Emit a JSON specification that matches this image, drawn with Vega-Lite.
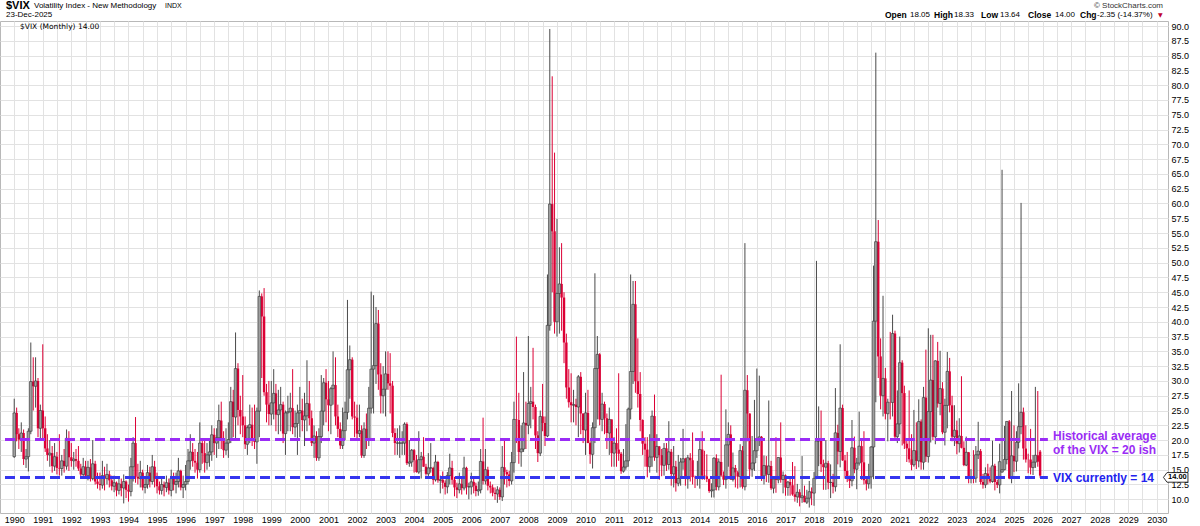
{
"$schema": "https://vega.github.io/schema/vega-lite/v6.json",
"width": 1168, "height": 492,
"autosize": {"type": "none"},
"padding": {"left": 0, "top": 21, "right": 32, "bottom": 13},
"background": "white",
"config": {"view": {"stroke": "#b8b8b8"}, "font": "Liberation Sans"},
"datasets": {
"vix": [
{"d":"1990-01","o":17.2,"h":27.0,"l":17.0,"c":24.6},{"d":"1990-02","o":24.6,"h":25.5,"l":19.8,"c":21.0},{"d":"1990-03","o":21.0,"h":22.0,"l":18.5,"c":20.1},{"d":"1990-04","o":20.1,"h":23.0,"l":18.0,"c":21.2},{"d":"1990-05","o":21.2,"h":21.8,"l":15.8,"c":16.8},{"d":"1990-06","o":16.8,"h":18.5,"l":15.3,"c":17.2},{"d":"1990-07","o":17.2,"h":22.0,"l":14.7,"c":21.5},{"d":"1990-08","o":21.5,"h":36.5,"l":21.0,"c":29.9},{"d":"1990-09","o":29.9,"h":34.0,"l":25.0,"c":29.1},{"d":"1990-10","o":29.1,"h":34.0,"l":25.5,"c":30.0},{"d":"1990-11","o":30.0,"h":30.5,"l":20.5,"c":22.0},{"d":"1990-12","o":22.0,"h":26.0,"l":20.0,"c":25.0},
{"d":"1991-01","o":25.0,"h":36.2,"l":20.0,"c":22.0},{"d":"1991-02","o":22.0,"h":24.0,"l":18.0,"c":18.6},{"d":"1991-03","o":18.6,"h":21.0,"l":16.5,"c":17.5},{"d":"1991-04","o":17.5,"h":20.0,"l":15.5,"c":17.8},{"d":"1991-05","o":17.8,"h":19.0,"l":14.5,"c":15.6},{"d":"1991-06","o":15.6,"h":19.5,"l":14.8,"c":17.2},{"d":"1991-07","o":17.2,"h":18.0,"l":14.2,"c":15.3},{"d":"1991-08","o":15.3,"h":21.0,"l":14.0,"c":15.2},{"d":"1991-09","o":15.2,"h":17.5,"l":14.0,"c":16.5},{"d":"1991-10","o":16.5,"h":18.5,"l":14.5,"c":15.6},{"d":"1991-11","o":15.6,"h":21.8,"l":15.0,"c":20.3},{"d":"1991-12","o":20.3,"h":21.5,"l":14.8,"c":17.1},
{"d":"1992-01","o":17.1,"h":19.5,"l":15.5,"c":16.5},{"d":"1992-02","o":16.5,"h":18.0,"l":15.0,"c":16.8},{"d":"1992-03","o":16.8,"h":18.5,"l":15.5,"c":16.5},{"d":"1992-04","o":16.5,"h":19.0,"l":14.8,"c":15.2},{"d":"1992-05","o":15.2,"h":16.0,"l":13.5,"c":14.2},{"d":"1992-06","o":14.2,"h":17.0,"l":13.8,"c":15.5},{"d":"1992-07","o":15.5,"h":16.5,"l":13.5,"c":14.0},{"d":"1992-08","o":14.0,"h":16.5,"l":13.2,"c":15.4},{"d":"1992-09","o":15.4,"h":16.8,"l":13.0,"c":13.5},{"d":"1992-10","o":13.5,"h":20.0,"l":13.2,"c":16.0},{"d":"1992-11","o":16.0,"h":16.5,"l":12.5,"c":13.0},{"d":"1992-12","o":13.0,"h":14.5,"l":11.8,"c":12.6},
{"d":"1993-01","o":12.6,"h":14.5,"l":11.5,"c":12.4},{"d":"1993-02","o":12.4,"h":16.5,"l":11.8,"c":14.0},{"d":"1993-03","o":14.0,"h":15.5,"l":11.5,"c":13.5},{"d":"1993-04","o":13.5,"h":16.0,"l":12.5,"c":14.2},{"d":"1993-05","o":14.2,"h":14.8,"l":12.0,"c":13.2},{"d":"1993-06","o":13.2,"h":14.0,"l":11.5,"c":12.2},{"d":"1993-07","o":12.2,"h":14.0,"l":11.2,"c":12.8},{"d":"1993-08","o":12.8,"h":13.0,"l":10.5,"c":11.5},{"d":"1993-09","o":11.5,"h":13.8,"l":10.8,"c":12.6},{"d":"1993-10","o":12.6,"h":13.5,"l":10.5,"c":11.9},{"d":"1993-11","o":11.9,"h":14.2,"l":9.3,"c":13.0},{"d":"1993-12","o":13.0,"h":13.2,"l":10.2,"c":11.6},
{"d":"1994-01","o":11.6,"h":12.5,"l":9.6,"c":11.3},{"d":"1994-02","o":11.3,"h":17.0,"l":10.5,"c":15.5},{"d":"1994-03","o":15.5,"h":20.5,"l":13.0,"c":19.5},{"d":"1994-04","o":19.5,"h":23.9,"l":12.8,"c":13.8},{"d":"1994-05","o":13.8,"h":16.0,"l":12.5,"c":13.5},{"d":"1994-06","o":13.5,"h":16.5,"l":12.0,"c":14.5},{"d":"1994-07","o":14.5,"h":15.0,"l":11.5,"c":12.0},{"d":"1994-08","o":12.0,"h":13.5,"l":11.0,"c":12.5},{"d":"1994-09","o":12.5,"h":15.8,"l":11.8,"c":14.5},{"d":"1994-10","o":14.5,"h":15.5,"l":12.0,"c":13.0},{"d":"1994-11","o":13.0,"h":17.5,"l":12.5,"c":15.5},{"d":"1994-12","o":15.5,"h":16.5,"l":12.0,"c":13.5},
{"d":"1995-01","o":13.5,"h":14.5,"l":11.0,"c":12.2},{"d":"1995-02","o":12.2,"h":13.0,"l":10.8,"c":11.5},{"d":"1995-03","o":11.5,"h":13.5,"l":10.8,"c":12.5},{"d":"1995-04","o":12.5,"h":13.0,"l":10.5,"c":12.0},{"d":"1995-05","o":12.0,"h":14.0,"l":11.2,"c":12.8},{"d":"1995-06","o":12.8,"h":13.5,"l":10.8,"c":11.5},{"d":"1995-07","o":11.5,"h":15.0,"l":10.5,"c":13.5},{"d":"1995-08","o":13.5,"h":14.5,"l":11.5,"c":12.5},{"d":"1995-09","o":12.5,"h":14.5,"l":11.0,"c":13.0},{"d":"1995-10","o":13.0,"h":17.0,"l":12.0,"c":14.8},{"d":"1995-11","o":14.8,"h":15.0,"l":11.5,"c":12.0},{"d":"1995-12","o":12.0,"h":14.0,"l":10.2,"c":12.5},
{"d":"1996-01","o":12.5,"h":15.8,"l":11.5,"c":13.0},{"d":"1996-02","o":13.0,"h":18.5,"l":12.5,"c":16.5},{"d":"1996-03","o":16.5,"h":21.0,"l":15.0,"c":18.0},{"d":"1996-04","o":18.0,"h":19.5,"l":15.5,"c":16.5},{"d":"1996-05","o":16.5,"h":18.5,"l":14.5,"c":16.2},{"d":"1996-06","o":16.2,"h":18.0,"l":13.5,"c":15.0},{"d":"1996-07","o":15.0,"h":23.0,"l":14.5,"c":19.5},{"d":"1996-08","o":19.5,"h":20.0,"l":16.0,"c":17.8},{"d":"1996-09","o":17.8,"h":20.0,"l":14.5,"c":16.2},{"d":"1996-10","o":16.2,"h":19.5,"l":15.0,"c":17.5},{"d":"1996-11","o":17.5,"h":20.0,"l":15.5,"c":18.0},{"d":"1996-12","o":18.0,"h":22.5,"l":16.5,"c":20.9},
{"d":"1997-01","o":20.9,"h":22.0,"l":17.5,"c":19.5},{"d":"1997-02","o":19.5,"h":22.0,"l":17.0,"c":20.4},{"d":"1997-03","o":20.4,"h":26.0,"l":18.5,"c":23.3},{"d":"1997-04","o":23.3,"h":26.5,"l":18.5,"c":20.0},{"d":"1997-05","o":20.0,"h":21.5,"l":17.0,"c":18.3},{"d":"1997-06","o":18.3,"h":22.0,"l":17.5,"c":19.5},{"d":"1997-07","o":19.5,"h":23.0,"l":17.0,"c":20.1},{"d":"1997-08","o":20.1,"h":29.0,"l":19.5,"c":26.5},{"d":"1997-09","o":26.5,"h":28.5,"l":20.5,"c":23.9},{"d":"1997-10","o":23.9,"h":38.2,"l":20.0,"c":32.1},{"d":"1997-11","o":32.1,"h":33.0,"l":22.5,"c":25.1},{"d":"1997-12","o":25.1,"h":27.5,"l":21.0,"c":24.0},
{"d":"1998-01","o":24.0,"h":31.0,"l":20.5,"c":22.5},{"d":"1998-02","o":22.5,"h":24.0,"l":18.5,"c":19.3},{"d":"1998-03","o":19.3,"h":22.5,"l":17.5,"c":22.1},{"d":"1998-04","o":22.1,"h":26.0,"l":19.5,"c":22.6},{"d":"1998-05","o":22.6,"h":25.5,"l":19.0,"c":20.2},{"d":"1998-06","o":20.2,"h":26.0,"l":18.5,"c":19.7},{"d":"1998-07","o":19.7,"h":25.5,"l":16.0,"c":24.9},{"d":"1998-08","o":24.9,"h":45.3,"l":20.5,"c":44.3},{"d":"1998-09","o":44.3,"h":44.8,"l":30.5,"c":40.9},{"d":"1998-10","o":40.9,"h":45.7,"l":27.5,"c":28.1},{"d":"1998-11","o":28.1,"h":29.5,"l":23.0,"c":26.0},{"d":"1998-12","o":26.0,"h":30.0,"l":22.5,"c":24.4},
{"d":"1999-01","o":24.4,"h":30.0,"l":22.5,"c":26.3},{"d":"1999-02","o":26.3,"h":32.0,"l":23.5,"c":27.9},{"d":"1999-03","o":27.9,"h":29.5,"l":21.5,"c":24.3},{"d":"1999-04","o":24.3,"h":28.5,"l":21.0,"c":25.1},{"d":"1999-05","o":25.1,"h":29.0,"l":21.5,"c":26.0},{"d":"1999-06","o":26.0,"h":26.5,"l":19.5,"c":21.1},{"d":"1999-07","o":21.1,"h":25.0,"l":17.5,"c":24.6},{"d":"1999-08","o":24.6,"h":27.5,"l":21.5,"c":24.8},{"d":"1999-09","o":24.8,"h":28.0,"l":21.5,"c":25.4},{"d":"1999-10","o":25.4,"h":32.0,"l":21.0,"c":22.2},{"d":"1999-11","o":22.2,"h":25.0,"l":20.5,"c":22.8},{"d":"1999-12","o":22.8,"h":26.0,"l":17.5,"c":24.6},
{"d":"2000-01","o":24.6,"h":29.0,"l":20.5,"c":25.0},{"d":"2000-02","o":25.0,"h":27.0,"l":21.5,"c":23.4},{"d":"2000-03","o":23.4,"h":28.0,"l":19.0,"c":24.1},{"d":"2000-04","o":24.1,"h":33.5,"l":21.5,"c":26.2},{"d":"2000-05","o":26.2,"h":30.0,"l":22.5,"c":23.7},{"d":"2000-06","o":23.7,"h":25.0,"l":19.0,"c":19.5},{"d":"2000-07","o":19.5,"h":22.5,"l":17.0,"c":20.7},{"d":"2000-08","o":20.7,"h":21.5,"l":16.5,"c":17.0},{"d":"2000-09","o":17.0,"h":22.0,"l":16.5,"c":20.6},{"d":"2000-10","o":20.6,"h":31.0,"l":19.5,"c":24.9},{"d":"2000-11","o":24.9,"h":30.5,"l":22.5,"c":29.7},{"d":"2000-12","o":29.7,"h":32.0,"l":23.0,"c":26.9},
{"d":"2001-01","o":26.9,"h":30.0,"l":21.5,"c":25.9},{"d":"2001-02","o":25.9,"h":29.0,"l":21.0,"c":28.7},{"d":"2001-03","o":28.7,"h":35.0,"l":26.0,"c":29.3},{"d":"2001-04","o":29.3,"h":34.0,"l":22.5,"c":24.0},{"d":"2001-05","o":24.0,"h":26.0,"l":20.5,"c":21.9},{"d":"2001-06","o":21.9,"h":23.0,"l":18.5,"c":19.1},{"d":"2001-07","o":19.1,"h":25.5,"l":18.5,"c":21.6},{"d":"2001-08","o":21.6,"h":26.5,"l":20.0,"c":24.7},{"d":"2001-09","o":24.7,"h":43.7,"l":23.5,"c":31.9},{"d":"2001-10","o":31.9,"h":36.0,"l":27.0,"c":33.6},{"d":"2001-11","o":33.6,"h":34.0,"l":23.5,"c":24.0},{"d":"2001-12","o":24.0,"h":26.5,"l":20.5,"c":23.8},
{"d":"2002-01","o":23.8,"h":26.0,"l":20.0,"c":21.1},{"d":"2002-02","o":21.1,"h":26.0,"l":20.5,"c":21.6},{"d":"2002-03","o":21.6,"h":22.5,"l":17.0,"c":17.4},{"d":"2002-04","o":17.4,"h":23.0,"l":17.0,"c":21.9},{"d":"2002-05","o":21.9,"h":24.5,"l":18.5,"c":20.0},{"d":"2002-06","o":20.0,"h":29.0,"l":19.0,"c":25.4},{"d":"2002-07","o":25.4,"h":45.1,"l":24.5,"c":32.0},{"d":"2002-08","o":32.0,"h":44.5,"l":24.5,"c":32.6},{"d":"2002-09","o":32.6,"h":42.5,"l":29.5,"c":39.7},{"d":"2002-10","o":39.7,"h":42.0,"l":28.5,"c":31.1},{"d":"2002-11","o":31.1,"h":33.0,"l":24.5,"c":27.5},{"d":"2002-12","o":27.5,"h":32.5,"l":24.5,"c":28.6},
{"d":"2003-01","o":28.6,"h":35.0,"l":24.0,"c":31.2},{"d":"2003-02","o":31.2,"h":35.0,"l":28.5,"c":29.6},{"d":"2003-03","o":29.6,"h":34.7,"l":24.5,"c":29.2},{"d":"2003-04","o":29.2,"h":30.0,"l":20.5,"c":21.2},{"d":"2003-05","o":21.2,"h":22.0,"l":17.5,"c":19.5},{"d":"2003-06","o":19.5,"h":22.0,"l":17.5,"c":19.5},{"d":"2003-07","o":19.5,"h":22.5,"l":17.0,"c":19.5},{"d":"2003-08","o":19.5,"h":21.5,"l":17.5,"c":19.5},{"d":"2003-09","o":19.5,"h":23.0,"l":17.5,"c":22.7},{"d":"2003-10","o":22.7,"h":23.0,"l":15.8,"c":16.1},{"d":"2003-11","o":16.1,"h":20.0,"l":15.5,"c":16.3},{"d":"2003-12","o":16.3,"h":18.5,"l":15.5,"c":18.3},
{"d":"2004-01","o":18.3,"h":18.5,"l":14.5,"c":16.6},{"d":"2004-02","o":16.6,"h":17.5,"l":14.5,"c":14.6},{"d":"2004-03","o":14.6,"h":21.5,"l":14.3,"c":16.7},{"d":"2004-04","o":16.7,"h":18.0,"l":13.5,"c":17.2},{"d":"2004-05","o":17.2,"h":20.5,"l":15.5,"c":15.5},{"d":"2004-06","o":15.5,"h":16.0,"l":14.0,"c":14.3},{"d":"2004-07","o":14.3,"h":17.8,"l":13.5,"c":15.3},{"d":"2004-08","o":15.3,"h":19.5,"l":14.5,"c":15.3},{"d":"2004-09","o":15.3,"h":15.5,"l":12.5,"c":13.3},{"d":"2004-10","o":13.3,"h":17.5,"l":13.0,"c":16.3},{"d":"2004-11","o":16.3,"h":16.5,"l":12.8,"c":13.2},{"d":"2004-12","o":13.2,"h":14.0,"l":11.0,"c":13.3},
{"d":"2005-01","o":13.3,"h":14.7,"l":11.8,"c":12.8},{"d":"2005-02","o":12.8,"h":13.2,"l":10.8,"c":12.1},{"d":"2005-03","o":12.1,"h":14.6,"l":11.0,"c":14.0},{"d":"2005-04","o":14.0,"h":17.7,"l":12.5,"c":15.3},{"d":"2005-05","o":15.3,"h":16.5,"l":12.5,"c":13.3},{"d":"2005-06","o":13.3,"h":13.8,"l":10.5,"c":12.0},{"d":"2005-07","o":12.0,"h":12.8,"l":10.2,"c":11.6},{"d":"2005-08","o":11.6,"h":14.5,"l":11.0,"c":12.6},{"d":"2005-09","o":12.6,"h":13.5,"l":10.8,"c":11.9},{"d":"2005-10","o":11.9,"h":17.2,"l":11.5,"c":15.3},{"d":"2005-11","o":15.3,"h":15.5,"l":10.8,"c":12.1},{"d":"2005-12","o":12.1,"h":12.8,"l":10.0,"c":12.1},
{"d":"2006-01","o":12.1,"h":14.5,"l":10.8,"c":12.95},{"d":"2006-02","o":12.95,"h":13.5,"l":11.0,"c":12.3},{"d":"2006-03","o":12.3,"h":12.8,"l":10.5,"c":11.4},{"d":"2006-04","o":11.4,"h":13.0,"l":10.6,"c":11.6},{"d":"2006-05","o":11.6,"h":18.5,"l":11.0,"c":16.4},{"d":"2006-06","o":16.4,"h":23.8,"l":12.5,"c":13.1},{"d":"2006-07","o":13.1,"h":18.5,"l":12.5,"c":15.0},{"d":"2006-08","o":15.0,"h":15.5,"l":11.5,"c":12.3},{"d":"2006-09","o":12.3,"h":13.0,"l":11.0,"c":12.0},{"d":"2006-10","o":12.0,"h":12.5,"l":10.5,"c":11.1},{"d":"2006-11","o":11.1,"h":12.0,"l":9.9,"c":10.9},{"d":"2006-12","o":10.9,"h":12.2,"l":9.4,"c":11.6},
{"d":"2007-01","o":11.6,"h":12.0,"l":9.9,"c":10.4},{"d":"2007-02","o":10.4,"h":19.0,"l":9.7,"c":15.4},{"d":"2007-03","o":15.4,"h":20.0,"l":12.5,"c":14.6},{"d":"2007-04","o":14.6,"h":15.0,"l":12.0,"c":14.2},{"d":"2007-05","o":14.2,"h":14.8,"l":12.2,"c":13.1},{"d":"2007-06","o":13.1,"h":18.0,"l":12.5,"c":16.2},{"d":"2007-07","o":16.2,"h":26.5,"l":14.5,"c":23.5},{"d":"2007-08","o":23.5,"h":37.5,"l":19.5,"c":23.4},{"d":"2007-09","o":23.4,"h":28.0,"l":16.0,"c":18.0},{"d":"2007-10","o":18.0,"h":22.5,"l":15.5,"c":18.5},{"d":"2007-11","o":18.5,"h":31.5,"l":18.0,"c":22.9},{"d":"2007-12","o":22.9,"h":26.5,"l":18.5,"c":22.5},
{"d":"2008-01","o":22.5,"h":37.6,"l":21.0,"c":26.2},{"d":"2008-02","o":26.2,"h":29.0,"l":22.0,"c":26.5},{"d":"2008-03","o":26.5,"h":35.6,"l":23.5,"c":25.6},{"d":"2008-04","o":25.6,"h":26.0,"l":18.5,"c":20.8},{"d":"2008-05","o":20.8,"h":21.5,"l":16.3,"c":17.8},{"d":"2008-06","o":17.8,"h":25.0,"l":17.3,"c":24.0},{"d":"2008-07","o":24.0,"h":29.5,"l":21.5,"c":22.9},{"d":"2008-08","o":22.9,"h":24.0,"l":19.0,"c":20.7},{"d":"2008-09","o":20.7,"h":48.0,"l":20.5,"c":39.4},{"d":"2008-10","o":39.4,"h":89.5,"l":38.5,"c":59.9},{"d":"2008-11","o":59.9,"h":81.5,"l":45.0,"c":55.3},{"d":"2008-12","o":55.3,"h":68.6,"l":38.0,"c":40.0},
{"d":"2009-01","o":40.0,"h":57.4,"l":37.5,"c":44.8},{"d":"2009-02","o":44.8,"h":52.6,"l":38.0,"c":46.4},{"d":"2009-03","o":46.4,"h":53.3,"l":38.5,"c":44.1},{"d":"2009-04","o":44.1,"h":45.0,"l":33.0,"c":36.5},{"d":"2009-05","o":36.5,"h":38.0,"l":27.0,"c":28.9},{"d":"2009-06","o":28.9,"h":32.0,"l":25.5,"c":26.4},{"d":"2009-07","o":26.4,"h":31.3,"l":23.0,"c":25.9},{"d":"2009-08","o":25.9,"h":28.5,"l":23.0,"c":26.0},{"d":"2009-09","o":26.0,"h":27.0,"l":22.5,"c":25.6},{"d":"2009-10","o":25.6,"h":31.0,"l":20.5,"c":30.7},{"d":"2009-11","o":30.7,"h":31.5,"l":21.0,"c":24.5},{"d":"2009-12","o":24.5,"h":24.5,"l":19.5,"c":21.7},
{"d":"2010-01","o":21.7,"h":28.0,"l":17.5,"c":24.6},{"d":"2010-02","o":24.6,"h":28.5,"l":19.5,"c":19.5},{"d":"2010-03","o":19.5,"h":19.8,"l":16.0,"c":17.6},{"d":"2010-04","o":17.6,"h":23.0,"l":15.2,"c":22.1},{"d":"2010-05","o":22.1,"h":48.2,"l":19.5,"c":32.1},{"d":"2010-06","o":32.1,"h":37.6,"l":23.5,"c":34.5},{"d":"2010-07","o":34.5,"h":34.7,"l":22.5,"c":23.5},{"d":"2010-08","o":23.5,"h":28.0,"l":21.5,"c":26.1},{"d":"2010-09","o":26.1,"h":26.5,"l":21.0,"c":23.7},{"d":"2010-10","o":23.7,"h":24.5,"l":18.5,"c":21.2},{"d":"2010-11","o":21.2,"h":25.5,"l":17.5,"c":23.5},{"d":"2010-12","o":23.5,"h":23.5,"l":15.5,"c":17.8},
{"d":"2011-01","o":17.8,"h":20.5,"l":15.5,"c":19.5},{"d":"2011-02","o":19.5,"h":22.0,"l":15.5,"c":18.4},{"d":"2011-03","o":18.4,"h":31.3,"l":16.5,"c":17.7},{"d":"2011-04","o":17.7,"h":18.0,"l":14.3,"c":14.75},{"d":"2011-05","o":14.75,"h":18.5,"l":14.5,"c":15.45},{"d":"2011-06","o":15.45,"h":22.7,"l":15.0,"c":16.5},{"d":"2011-07","o":16.5,"h":25.5,"l":15.5,"c":25.25},{"d":"2011-08","o":25.25,"h":48.0,"l":23.5,"c":31.6},{"d":"2011-09","o":31.6,"h":46.9,"l":29.5,"c":42.96},{"d":"2011-10","o":42.96,"h":46.9,"l":28.0,"c":29.96},{"d":"2011-11","o":29.96,"h":37.2,"l":25.5,"c":27.8},{"d":"2011-12","o":27.8,"h":31.5,"l":21.5,"c":23.4},
{"d":"2012-01","o":23.4,"h":23.5,"l":17.5,"c":19.4},{"d":"2012-02","o":19.4,"h":20.5,"l":15.5,"c":18.4},{"d":"2012-03","o":18.4,"h":20.5,"l":13.7,"c":15.5},{"d":"2012-04","o":15.5,"h":21.0,"l":14.5,"c":17.15},{"d":"2012-05","o":17.15,"h":25.0,"l":15.5,"c":24.06},{"d":"2012-06","o":24.06,"h":27.7,"l":16.5,"c":17.08},{"d":"2012-07","o":17.08,"h":21.0,"l":14.5,"c":18.93},{"d":"2012-08","o":18.93,"h":19.0,"l":13.3,"c":17.47},{"d":"2012-09","o":17.47,"h":18.5,"l":13.9,"c":15.73},{"d":"2012-10","o":15.73,"h":19.5,"l":14.0,"c":18.6},{"d":"2012-11","o":18.6,"h":19.5,"l":14.8,"c":15.87},{"d":"2012-12","o":15.87,"h":23.2,"l":15.0,"c":18.02},
{"d":"2013-01","o":18.02,"h":18.5,"l":12.3,"c":14.28},{"d":"2013-02","o":14.28,"h":19.0,"l":12.0,"c":15.51},{"d":"2013-03","o":15.51,"h":16.5,"l":11.3,"c":12.7},{"d":"2013-04","o":12.7,"h":17.5,"l":12.2,"c":13.52},{"d":"2013-05","o":13.52,"h":17.0,"l":12.3,"c":16.3},{"d":"2013-06","o":16.3,"h":21.9,"l":15.0,"c":16.86},{"d":"2013-07","o":16.86,"h":17.0,"l":12.3,"c":13.45},{"d":"2013-08","o":13.45,"h":17.5,"l":11.8,"c":17.01},{"d":"2013-09","o":17.01,"h":17.8,"l":13.0,"c":16.6},{"d":"2013-10","o":16.6,"h":21.3,"l":12.5,"c":13.75},{"d":"2013-11","o":13.75,"h":14.0,"l":11.9,"c":13.7},{"d":"2013-12","o":13.7,"h":16.5,"l":12.3,"c":13.72},
{"d":"2014-01","o":13.72,"h":19.9,"l":11.8,"c":18.41},{"d":"2014-02","o":18.41,"h":21.5,"l":13.3,"c":14.0},{"d":"2014-03","o":14.0,"h":18.2,"l":13.3,"c":13.88},{"d":"2014-04","o":13.88,"h":17.6,"l":12.9,"c":13.41},{"d":"2014-05","o":13.41,"h":13.5,"l":11.1,"c":11.4},{"d":"2014-06","o":11.4,"h":12.7,"l":10.3,"c":11.57},{"d":"2014-07","o":11.57,"h":17.1,"l":10.3,"c":16.95},{"d":"2014-08","o":16.95,"h":17.6,"l":11.5,"c":12.09},{"d":"2014-09","o":12.09,"h":16.9,"l":11.5,"c":16.31},{"d":"2014-10","o":16.31,"h":31.06,"l":13.8,"c":14.03},{"d":"2014-11","o":14.03,"h":14.7,"l":12.4,"c":13.33},{"d":"2014-12","o":13.33,"h":25.2,"l":11.8,"c":19.2},
{"d":"2015-01","o":19.2,"h":23.0,"l":15.5,"c":20.97},{"d":"2015-02","o":20.97,"h":22.5,"l":13.3,"c":13.34},{"d":"2015-03","o":13.34,"h":17.9,"l":13.0,"c":15.29},{"d":"2015-04","o":15.29,"h":15.8,"l":12.0,"c":14.55},{"d":"2015-05","o":14.55,"h":14.8,"l":11.8,"c":13.84},{"d":"2015-06","o":13.84,"h":19.3,"l":12.0,"c":18.23},{"d":"2015-07","o":18.23,"h":19.0,"l":11.8,"c":12.12},{"d":"2015-08","o":12.12,"h":53.3,"l":11.5,"c":28.43},{"d":"2015-09","o":28.43,"h":31.0,"l":19.8,"c":24.5},{"d":"2015-10","o":24.5,"h":24.5,"l":13.9,"c":15.07},{"d":"2015-11","o":15.07,"h":20.7,"l":13.8,"c":16.13},{"d":"2015-12","o":16.13,"h":26.8,"l":14.8,"c":18.21},
{"d":"2016-01","o":18.21,"h":32.1,"l":17.0,"c":20.2},{"d":"2016-02","o":20.2,"h":30.9,"l":19.0,"c":20.55},{"d":"2016-03","o":20.55,"h":20.7,"l":13.1,"c":13.95},{"d":"2016-04","o":13.95,"h":17.4,"l":12.5,"c":15.7},{"d":"2016-05","o":15.7,"h":17.3,"l":12.9,"c":14.19},{"d":"2016-06","o":14.19,"h":26.7,"l":12.8,"c":15.63},{"d":"2016-07","o":15.63,"h":16.5,"l":11.6,"c":11.87},{"d":"2016-08","o":11.87,"h":13.9,"l":11.0,"c":13.42},{"d":"2016-09","o":13.42,"h":20.5,"l":11.1,"c":13.29},{"d":"2016-10","o":13.29,"h":17.1,"l":12.7,"c":17.06},{"d":"2016-11","o":17.06,"h":23.0,"l":12.8,"c":13.33},{"d":"2016-12","o":13.33,"h":14.7,"l":11.0,"c":14.04},
{"d":"2017-01","o":14.04,"h":14.2,"l":10.6,"c":11.99},{"d":"2017-02","o":11.99,"h":13.1,"l":10.6,"c":12.92},{"d":"2017-03","o":12.92,"h":13.6,"l":10.6,"c":12.37},{"d":"2017-04","o":12.37,"h":16.3,"l":10.6,"c":10.82},{"d":"2017-05","o":10.82,"h":15.6,"l":9.6,"c":10.41},{"d":"2017-06","o":10.41,"h":12.6,"l":9.4,"c":11.18},{"d":"2017-07","o":11.18,"h":11.7,"l":8.8,"c":10.26},{"d":"2017-08","o":10.26,"h":17.3,"l":9.4,"c":10.59},{"d":"2017-09","o":10.59,"h":12.3,"l":9.5,"c":9.51},{"d":"2017-10","o":9.51,"h":11.6,"l":9.2,"c":10.18},{"d":"2017-11","o":10.18,"h":13.1,"l":8.6,"c":11.28},{"d":"2017-12","o":11.28,"h":12.0,"l":9.0,"c":11.04},
{"d":"2018-01","o":11.04,"h":14.6,"l":8.9,"c":13.54},{"d":"2018-02","o":13.54,"h":50.3,"l":13.4,"c":19.85},{"d":"2018-03","o":19.85,"h":25.7,"l":15.6,"c":19.97},{"d":"2018-04","o":19.97,"h":25.0,"l":14.6,"c":15.93},{"d":"2018-05","o":15.93,"h":16.7,"l":11.6,"c":15.43},{"d":"2018-06","o":15.43,"h":20.0,"l":11.6,"c":16.09},{"d":"2018-07","o":16.09,"h":16.5,"l":11.7,"c":12.83},{"d":"2018-08","o":12.83,"h":15.9,"l":10.2,"c":12.86},{"d":"2018-09","o":12.86,"h":14.3,"l":11.0,"c":12.12},{"d":"2018-10","o":12.12,"h":28.8,"l":11.3,"c":21.23},{"d":"2018-11","o":21.23,"h":22.6,"l":15.9,"c":18.07},{"d":"2018-12","o":18.07,"h":36.2,"l":15.4,"c":25.42},
{"d":"2019-01","o":25.42,"h":26.0,"l":16.5,"c":16.57},{"d":"2019-02","o":16.57,"h":17.5,"l":13.5,"c":14.78},{"d":"2019-03","o":14.78,"h":18.0,"l":12.9,"c":13.71},{"d":"2019-04","o":13.71,"h":14.0,"l":11.9,"c":13.12},{"d":"2019-05","o":13.12,"h":23.4,"l":12.2,"c":18.71},{"d":"2019-06","o":18.71,"h":20.6,"l":14.4,"c":15.08},{"d":"2019-07","o":15.08,"h":17.0,"l":11.7,"c":16.12},{"d":"2019-08","o":16.12,"h":24.8,"l":15.7,"c":18.98},{"d":"2019-09","o":18.98,"h":20.2,"l":13.3,"c":16.24},{"d":"2019-10","o":16.24,"h":21.5,"l":12.5,"c":13.22},{"d":"2019-11","o":13.22,"h":13.8,"l":11.5,"c":12.62},{"d":"2019-12","o":12.62,"h":16.0,"l":11.8,"c":13.78},
{"d":"2020-01","o":13.78,"h":19.0,"l":11.8,"c":18.84},{"d":"2020-02","o":18.84,"h":49.5,"l":13.4,"c":40.11},{"d":"2020-03","o":40.11,"h":85.5,"l":26.4,"c":53.54},{"d":"2020-04","o":53.54,"h":57.2,"l":30.5,"c":34.15},{"d":"2020-05","o":34.15,"h":37.2,"l":25.2,"c":27.51},{"d":"2020-06","o":27.51,"h":44.4,"l":24.0,"c":30.43},{"d":"2020-07","o":30.43,"h":32.2,"l":23.5,"c":24.46},{"d":"2020-08","o":24.46,"h":27.0,"l":19.8,"c":26.41},{"d":"2020-09","o":26.41,"h":38.3,"l":23.5,"c":26.37},{"d":"2020-10","o":26.37,"h":41.2,"l":24.0,"c":38.02},{"d":"2020-11","o":38.02,"h":38.5,"l":20.0,"c":20.57},{"d":"2020-12","o":20.57,"h":28.4,"l":19.5,"c":22.75},
{"d":"2021-01","o":22.75,"h":37.5,"l":21.0,"c":33.09},{"d":"2021-02","o":33.09,"h":33.5,"l":19.1,"c":27.95},{"d":"2021-03","o":27.95,"h":29.2,"l":18.5,"c":19.4},{"d":"2021-04","o":19.4,"h":20.3,"l":16.3,"c":18.61},{"d":"2021-05","o":18.61,"h":28.4,"l":16.2,"c":16.76},{"d":"2021-06","o":16.76,"h":21.0,"l":14.9,"c":15.83},{"d":"2021-07","o":15.83,"h":25.1,"l":15.5,"c":18.24},{"d":"2021-08","o":18.24,"h":23.0,"l":15.1,"c":16.48},{"d":"2021-09","o":16.48,"h":26.9,"l":15.4,"c":23.14},{"d":"2021-10","o":23.14,"h":23.5,"l":15.0,"c":16.26},{"d":"2021-11","o":16.26,"h":29.0,"l":15.0,"c":27.19},{"d":"2021-12","o":27.19,"h":35.3,"l":16.3,"c":17.22},
{"d":"2022-01","o":17.22,"h":38.9,"l":16.2,"c":24.83},{"d":"2022-02","o":24.83,"h":37.8,"l":19.6,"c":30.15},{"d":"2022-03","o":30.15,"h":37.8,"l":20.0,"c":20.56},{"d":"2022-04","o":20.56,"h":33.5,"l":19.3,"c":33.4},{"d":"2022-05","o":33.4,"h":36.6,"l":25.5,"c":26.2},{"d":"2022-06","o":26.2,"h":35.1,"l":24.2,"c":28.71},{"d":"2022-07","o":28.71,"h":29.8,"l":21.0,"c":21.33},{"d":"2022-08","o":21.33,"h":27.0,"l":19.1,"c":25.87},{"d":"2022-09","o":25.87,"h":34.9,"l":22.0,"c":31.62},{"d":"2022-10","o":31.62,"h":33.9,"l":24.7,"c":25.88},{"d":"2022-11","o":25.88,"h":27.5,"l":19.8,"c":20.58},{"d":"2022-12","o":20.58,"h":25.9,"l":19.0,"c":21.67},
{"d":"2023-01","o":21.67,"h":23.3,"l":17.6,"c":19.4},{"d":"2023-02","o":19.4,"h":23.7,"l":17.9,"c":20.7},{"d":"2023-03","o":20.7,"h":30.8,"l":18.6,"c":18.7},{"d":"2023-04","o":18.7,"h":19.8,"l":15.6,"c":15.78},{"d":"2023-05","o":15.78,"h":20.6,"l":15.6,"c":17.94},{"d":"2023-06","o":17.94,"h":18.0,"l":12.7,"c":13.59},{"d":"2023-07","o":13.59,"h":15.1,"l":12.7,"c":13.63},{"d":"2023-08","o":13.63,"h":18.3,"l":12.7,"c":13.57},{"d":"2023-09","o":13.57,"h":19.0,"l":12.8,"c":17.52},{"d":"2023-10","o":17.52,"h":23.1,"l":16.8,"c":18.14},{"d":"2023-11","o":18.14,"h":18.5,"l":12.5,"c":12.92},{"d":"2023-12","o":12.92,"h":14.3,"l":11.8,"c":12.45},
{"d":"2024-01","o":12.45,"h":15.4,"l":11.9,"c":14.35},{"d":"2024-02","o":14.35,"h":16.0,"l":12.5,"c":13.4},{"d":"2024-03","o":13.4,"h":15.4,"l":12.7,"c":13.01},{"d":"2024-04","o":13.01,"h":19.9,"l":12.8,"c":15.65},{"d":"2024-05","o":15.65,"h":16.0,"l":11.5,"c":12.92},{"d":"2024-06","o":12.92,"h":13.3,"l":11.9,"c":12.44},{"d":"2024-07","o":12.44,"h":19.4,"l":11.0,"c":16.36},{"d":"2024-08","o":14.6,"h":65.7,"l":14.5,"c":15.0},{"d":"2024-09","o":15.0,"h":22.4,"l":14.9,"c":16.73},{"d":"2024-10","o":16.73,"h":23.2,"l":15.9,"c":23.16},{"d":"2024-11","o":23.16,"h":23.4,"l":13.4,"c":13.51},{"d":"2024-12","o":13.51,"h":28.3,"l":12.7,"c":17.35},
{"d":"2025-01","o":17.35,"h":22.5,"l":14.6,"c":16.43},{"d":"2025-02","o":16.43,"h":21.5,"l":14.7,"c":19.63},{"d":"2025-03","o":19.63,"h":29.6,"l":18.6,"c":22.28},{"d":"2025-04","o":22.28,"h":60.1,"l":21.0,"c":24.7},{"d":"2025-05","o":24.7,"h":25.5,"l":16.7,"c":18.57},{"d":"2025-06","o":18.57,"h":22.5,"l":16.2,"c":16.73},{"d":"2025-07","o":16.73,"h":17.7,"l":14.4,"c":16.72},{"d":"2025-08","o":16.72,"h":21.9,"l":14.2,"c":15.36},{"d":"2025-09","o":15.36,"h":17.5,"l":14.1,"c":16.28},{"d":"2025-10","o":16.28,"h":29.0,"l":15.3,"c":17.44},{"d":"2025-11","o":17.44,"h":28.3,"l":15.5,"c":16.35},{"d":"2025-12","o":18.05,"h":18.33,"l":13.64,"c":14.0}
]
},
"encoding": {
  "x": {"type": "temporal",
        "scale": {"domain": [{"year": 1989, "month": 9, "date": 5}, {"year": 2030, "month": 3, "date": 21}]},
        "axis": {"orient": "bottom", "title": null, "grid": true, "gridColor": "#e2e2e2", "ticks": false, "domain": false,
                 "tickCount": {"interval": "month", "step": 6},
                 "labelExpr": "month(datum.value) == 0 ? timeFormat(datum.value, '%Y') : ''",
                 "labelFont": "Liberation Sans", "labelFontSize": 9, "labelColor": "#000", "labelPadding": 2,
                 "labelOverlap": false, "labelFlush": false}},
  "y": {"type": "quantitative",
        "scale": {"domain": [7.68, 90.85], "nice": false, "zero": false},
        "axis": {"orient": "right", "title": null, "grid": true, "gridColor": "#e2e2e2", "ticks": false, "domain": false,
                 "values": [10,12.5,15,17.5,20,22.5,25,27.5,30,32.5,35,37.5,40,42.5,45,47.5,50,52.5,55,57.5,60,62.5,65,67.5,70,72.5,75,77.5,80,82.5,85,87.5,90],
                 "format": ".1f", "labelFont": "Liberation Sans", "labelFontSize": 9, "labelColor": "#000", "labelPadding": 3}}
},
"layer": [
  {"data": {"name": "vix"}, "transform": [{"filter": "datum.c < datum.o"}],
   "mark": {"type": "rule", "strokeWidth": 1, "color": "#dc0035"},
   "encoding": {"x": {"field": "d"}, "y": {"field": "l"}, "y2": {"field": "h"}}},
  {"data": {"name": "vix"}, "transform": [{"filter": "datum.c < datum.o"}],
   "mark": {"type": "bar", "width": 2.4, "color": "#dc0035"},
   "encoding": {"x": {"field": "d"}, "y": {"field": "o"}, "y2": {"field": "c"}}},
  {"data": {"name": "vix"}, "transform": [{"filter": "datum.c >= datum.o"}],
   "mark": {"type": "rule", "strokeWidth": 1, "color": "#4a4a4a"},
   "encoding": {"x": {"field": "d"}, "y": {"field": "l"}, "y2": {"field": "h"}}},
  {"data": {"name": "vix"}, "transform": [{"filter": "datum.c >= datum.o"}],
   "mark": {"type": "bar", "width": 2.6, "fill": "#a0a0a0", "stroke": "#333333", "strokeWidth": 0.6},
   "encoding": {"x": {"field": "d"}, "y": {"field": "o"}, "y2": {"field": "c"}}},
  {"data": {"values": [{}]},
   "mark": {"type": "rule", "color": "#9a2cf5", "strokeWidth": 3, "strokeDash": [10, 5]},
   "encoding": {"x": {"datum": {"year": 1989, "month": 9, "date": 5}}, "x2": {"datum": {"year": 2026, "month": 3, "date": 10}}, "y": {"datum": 20.1}}},
  {"data": {"values": [{}]},
   "mark": {"type": "rule", "color": "#3535ee", "strokeWidth": 3, "strokeDash": [10, 5]},
   "encoding": {"x": {"datum": {"year": 1989, "month": 9, "date": 5}}, "x2": {"datum": {"year": 2026, "month": 3, "date": 10}}, "y": {"datum": 13.7}}},
  {"data": {"values": [{}]},
   "mark": {"type": "text", "text": ["Historical average", "of the VIX = 20 ish"], "font": "Liberation Sans", "fontWeight": "bold", "fontSize": 12, "lineHeight": 14, "color": "#9a2cf5", "align": "left", "baseline": "middle"},
   "encoding": {"x": {"datum": {"year": 2026, "month": 5, "date": 14}}, "y": {"datum": 20.75}}},
  {"data": {"values": [{}]},
   "mark": {"type": "text", "text": "VIX currently = 14", "font": "Liberation Sans", "fontWeight": "bold", "fontSize": 12, "color": "#2222ee", "align": "left", "baseline": "middle"},
   "encoding": {"x": {"datum": {"year": 2026, "month": 5, "date": 14}}, "y": {"datum": 13.6}}},
  {"data": {"values": [{}]},
   "mark": {"type": "point", "shape": "M0.04,0 L0.33,-0.4 L2.08,-0.4 L2.08,0.4 L0.33,0.4 Z", "size": 576, "filled": false, "fill": "white", "stroke": "#000", "strokeWidth": 0.8, "opacity": 1},
   "encoding": {"x": {"datum": {"year": 2030, "month": 3, "date": 21}}, "y": {"datum": 13.7}}},
  {"data": {"values": [{}]},
   "mark": {"type": "text", "text": "14.00", "font": "Liberation Sans", "fontWeight": "bold", "fontSize": 7.5, "color": "#000", "align": "left", "baseline": "middle", "dx": 5},
   "encoding": {"x": {"datum": {"year": 2030, "month": 3, "date": 21}}, "y": {"datum": 13.7}}},
  {"data": {"values": [{}]},
   "mark": {"type": "text", "text": "$VIX", "font": "Liberation Sans", "fontWeight": "bold", "fontSize": 11, "color": "#000", "align": "left", "baseline": "middle", "dx": 1},
   "encoding": {"x": {"datum": {"year": 1989, "month": 9, "date": 5}}, "y": {"datum": 93.38}}},
  {"data": {"values": [{}]},
   "mark": {"type": "text", "text": "Volatility Index - New Methodology", "font": "Liberation Sans", "fontSize": 8, "color": "#000", "align": "left", "baseline": "middle", "dx": 29},
   "encoding": {"x": {"datum": {"year": 1989, "month": 9, "date": 5}}, "y": {"datum": 93.38}}},
  {"data": {"values": [{}]},
   "mark": {"type": "text", "text": "INDX", "font": "Liberation Sans", "fontSize": 7, "color": "#000", "align": "left", "baseline": "middle", "dx": 160},
   "encoding": {"x": {"datum": {"year": 1989, "month": 9, "date": 5}}, "y": {"datum": 93.38}}},
  {"data": {"values": [{}]},
   "mark": {"type": "text", "text": "23-Dec-2025", "font": "Liberation Sans", "fontSize": 8, "color": "#000", "align": "left", "baseline": "middle", "dx": 1},
   "encoding": {"x": {"datum": {"year": 1989, "month": 9, "date": 5}}, "y": {"datum": 91.78}}},
  {"data": {"values": [{}]},
   "mark": {"type": "text", "text": "$VIX (Monthly) 14.00", "font": "DejaVu Sans", "fontSize": 7.5, "color": "#000", "align": "left", "baseline": "middle", "dx": 15},
   "encoding": {"x": {"datum": {"year": 1989, "month": 9, "date": 5}}, "y": {"datum": 89.92}}},
  {"data": {"values": [{}]},
   "mark": {"type": "text", "text": "© StockCharts.com", "font": "Liberation Sans", "fontSize": 8, "color": "#333", "align": "right", "baseline": "middle", "dx": 0},
   "encoding": {"x": {"datum": {"year": 2030, "month": 3, "date": 21}}, "y": {"datum": 93.38}}},
  {"data": {"values": [{}]},
   "mark": {"type": "text", "text": "Open", "font": "Liberation Sans", "fontWeight": "bold", "fontSize": 8.5, "color": "#000", "align": "left", "baseline": "middle", "dx": -278},
   "encoding": {"x": {"datum": {"year": 2030, "month": 3, "date": 21}}, "y": {"datum": 91.78}}},
  {"data": {"values": [{}]},
   "mark": {"type": "text", "text": "18.05", "font": "Liberation Sans", "fontSize": 8, "color": "#000", "align": "left", "baseline": "middle", "dx": -253},
   "encoding": {"x": {"datum": {"year": 2030, "month": 3, "date": 21}}, "y": {"datum": 91.78}}},
  {"data": {"values": [{}]},
   "mark": {"type": "text", "text": "High", "font": "Liberation Sans", "fontWeight": "bold", "fontSize": 8.5, "color": "#000", "align": "left", "baseline": "middle", "dx": -229},
   "encoding": {"x": {"datum": {"year": 2030, "month": 3, "date": 21}}, "y": {"datum": 91.78}}},
  {"data": {"values": [{}]},
   "mark": {"type": "text", "text": "18.33", "font": "Liberation Sans", "fontSize": 8, "color": "#000", "align": "left", "baseline": "middle", "dx": -209},
   "encoding": {"x": {"datum": {"year": 2030, "month": 3, "date": 21}}, "y": {"datum": 91.78}}},
  {"data": {"values": [{}]},
   "mark": {"type": "text", "text": "Low", "font": "Liberation Sans", "fontWeight": "bold", "fontSize": 8.5, "color": "#000", "align": "left", "baseline": "middle", "dx": -182},
   "encoding": {"x": {"datum": {"year": 2030, "month": 3, "date": 21}}, "y": {"datum": 91.78}}},
  {"data": {"values": [{}]},
   "mark": {"type": "text", "text": "13.64", "font": "Liberation Sans", "fontSize": 8, "color": "#000", "align": "left", "baseline": "middle", "dx": -163},
   "encoding": {"x": {"datum": {"year": 2030, "month": 3, "date": 21}}, "y": {"datum": 91.78}}},
  {"data": {"values": [{}]},
   "mark": {"type": "text", "text": "Close", "font": "Liberation Sans", "fontWeight": "bold", "fontSize": 8.5, "color": "#000", "align": "left", "baseline": "middle", "dx": -135},
   "encoding": {"x": {"datum": {"year": 2030, "month": 3, "date": 21}}, "y": {"datum": 91.78}}},
  {"data": {"values": [{}]},
   "mark": {"type": "text", "text": "14.00", "font": "Liberation Sans", "fontSize": 8, "color": "#000", "align": "left", "baseline": "middle", "dx": -108},
   "encoding": {"x": {"datum": {"year": 2030, "month": 3, "date": 21}}, "y": {"datum": 91.78}}},
  {"data": {"values": [{}]},
   "mark": {"type": "text", "text": "Chg", "font": "Liberation Sans", "fontWeight": "bold", "fontSize": 8.5, "color": "#000", "align": "left", "baseline": "middle", "dx": -83},
   "encoding": {"x": {"datum": {"year": 2030, "month": 3, "date": 21}}, "y": {"datum": 91.78}}},
  {"data": {"values": [{}]},
   "mark": {"type": "text", "text": "-2.35 (-14.37%)", "font": "Liberation Sans", "fontSize": 8, "color": "#000", "align": "left", "baseline": "middle", "dx": -66},
   "encoding": {"x": {"datum": {"year": 2030, "month": 3, "date": 21}}, "y": {"datum": 91.78}}},
  {"data": {"values": [{}]},
   "mark": {"type": "text", "text": "▼", "font": "DejaVu Sans", "fontSize": 6, "color": "#c00030", "align": "left", "baseline": "middle", "dx": -5},
   "encoding": {"x": {"datum": {"year": 2030, "month": 3, "date": 21}}, "y": {"datum": 91.78}}}
]
}
